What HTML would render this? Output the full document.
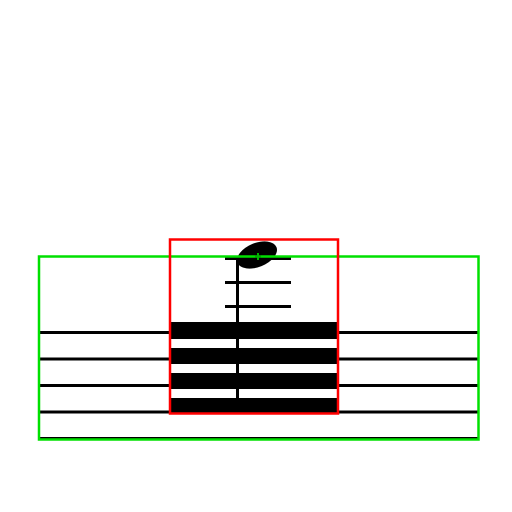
<!DOCTYPE html>
<html><head><meta charset="utf-8"><style>html,body{margin:0;padding:0;background:#fff}svg{display:block}</style></head>
<body>
<svg width="512" height="512" viewBox="0 0 512 512">
  <g fill="#000">
    <rect x="39" y="331" width="439" height="3"/>
    <rect x="39" y="357.5" width="439" height="3"/>
    <rect x="39" y="384" width="439" height="3"/>
    <rect x="39" y="410.5" width="439" height="3"/>
    <rect x="39" y="437" width="439" height="3"/>
  </g>
  <g fill="#000">
    <rect x="171" y="322" width="166" height="17"/>
    <rect x="171" y="348" width="166" height="16"/>
    <rect x="171" y="373" width="166" height="16"/>
    <rect x="171" y="398" width="166" height="15"/>
  </g>
  <g fill="#000">
    <rect x="225" y="257" width="66" height="3"/>
    <rect x="225" y="281" width="66" height="3"/>
    <rect x="225" y="305" width="66" height="3"/>
  </g>
  <rect x="236" y="258" width="3" height="142" fill="#000"/>
  <ellipse cx="257" cy="255" rx="21" ry="12" transform="rotate(-22 257 255)" fill="#000"/>
  <rect x="39" y="256.5" width="439.5" height="183" fill="none" stroke="#00e000" stroke-width="2.5"/>
  <rect x="170" y="239.5" width="168" height="174" fill="none" stroke="#ff0000" stroke-width="2.5"/>
  <path d="M258 253v7M255 256.5h6" stroke="#00b000" stroke-width="2"/>
</svg>
</body></html>
